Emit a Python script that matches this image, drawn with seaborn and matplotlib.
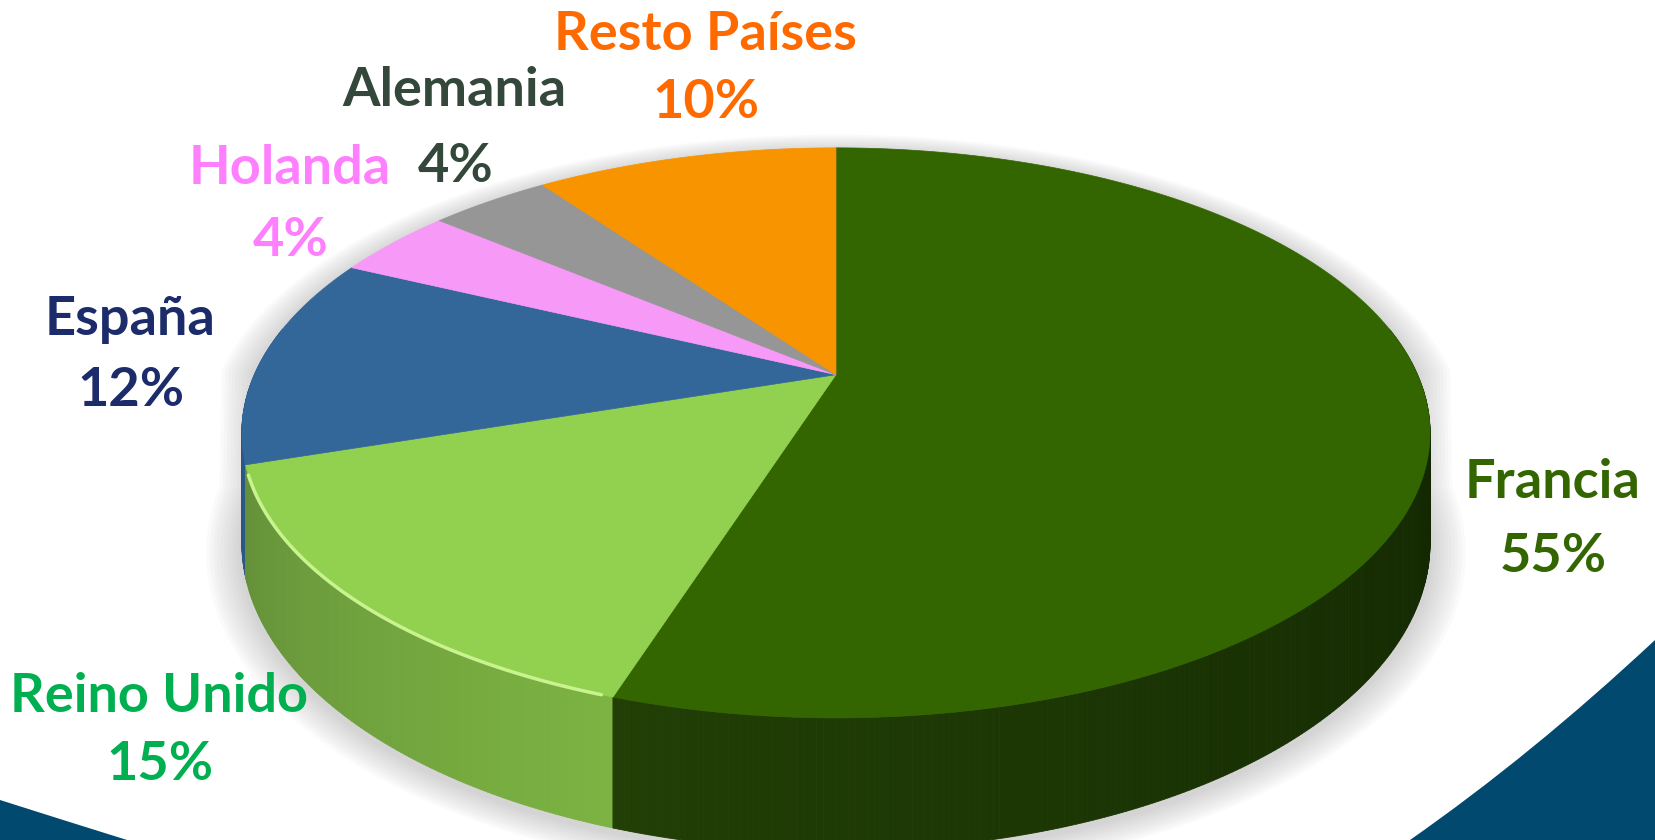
import numpy as np
import matplotlib.pyplot as plt
import matplotlib.patches as mpatches
from matplotlib.path import Path
import seaborn as sns

# datos del grafico
paises = ['Francia', 'Reino Unido', 'España', 'Holanda', 'Alemania', 'Resto Países']
porcentajes = [55, 15, 12, 4, 4, 10]
colores_cara = ['#336600', '#92d050', '#336699', '#f799f7', '#969696', '#f79400']
colores_lado_ini = ['#223f06', '#7cb342', '#2b5987', '#d77dd7', '#7f7f7f', '#d47f00']
colores_lado_fin = ['#0f2200', '#638f38', '#244a72', '#c06ec0', '#6f6f6f', '#b86e00']
colores_texto = ['#336600', '#00b050', '#1c2b69', '#ff80ff', '#33473a', '#ff6a00']

# posicion de las etiquetas (centro nombre, centro porcentaje) en pixeles
pos_etiquetas = {
    'Francia': ((1553, 482), (1553, 556)),
    'Reino Unido': ((159, 697), (160, 765)),
    'España': ((130, 320), (131, 391)),
    'Holanda': ((290, 169), (291, 241)),
    'Alemania': ((454, 91), (456, 166)),
    'Resto Países': ((705, 34), (706, 103)),
}

sns.set_theme(style="white")
plt.rcParams['font.family'] = ['Lato', 'DejaVu Sans']

W, Hpx = 1655, 840
fig = plt.figure(figsize=(W / 100, Hpx / 100), dpi=100)
ax = fig.add_axes([0, 0, 1, 1])
ax.set_xlim(0, W)
ax.set_ylim(Hpx, 0)
ax.axis('off')

# geometria de la tarta 3D con perspectiva
k = W / 1568
cx, cy = 792 * k, 355 * k
s, t, prof = 2700 * k, 1268 * k, 490 * k
d = 4.9


def proj(theta, h=0.0):
    r = np.radians(theta)
    x, z = np.sin(r), -np.cos(r)
    return cx + s * x / (d - z), cy + (t * z + prof * h) / (d - z)


# fondo azul en las esquinas
ax.add_patch(mpatches.Polygon([(0, 800), (60, 819), (127, 840), (0, 840)],
                              closed=True, color='#02496f', lw=0, zorder=0))
verts = [(1655, 640), (1533, 754), (1410, 840), (1655, 840), (1655, 640)]
codes = [Path.MOVETO, Path.CURVE3, Path.CURVE3, Path.LINETO, Path.CLOSEPOLY]
ax.add_patch(mpatches.PathPatch(Path(verts, codes), color='#02496f', lw=0, zorder=0))

# sombra suave bajo la tarta
ang_all = np.linspace(0, 360, 361)
silueta = np.array([proj(a, 1.0 if 90 <= a <= 270 else 0.0) for a in ang_all])
for i in range(10):
    f = 1.0 + 0.006 * (i + 1)
    pts = np.column_stack([cx + (silueta[:, 0] - cx) * f,
                           cy + 60 + (silueta[:, 1] - cy - 60) * f + 4])
    ax.add_patch(mpatches.Polygon(pts, closed=True, color='#808080', alpha=0.035,
                                  lw=0, zorder=1))

# angulos de cada porcion (sentido horario desde arriba)
limites = np.concatenate([[0], np.cumsum(porcentajes) / sum(porcentajes) * 360])

# lados visibles, en tiras ordenadas de atras hacia delante
tiras = []
for i, p in enumerate(paises):
    a0, a1 = max(limites[i], 80), min(limites[i + 1], 280)
    if a1 <= a0:
        continue
    angs = np.arange(a0, a1 + 0.5, 0.5)
    angs[-1] = min(angs[-1], a1)
    pal = sns.blend_palette([colores_lado_ini[i], colores_lado_fin[i]], len(angs))
    if i == 0:
        pal = pal[::-1]
    for j in range(len(angs) - 1):
        u, v = angs[j], angs[j + 1]
        poly = [proj(u, 0), proj(v, 0), proj(v, 1), proj(u, 1)]
        zmid = -np.cos(np.radians((u + v) / 2))
        tiras.append((zmid, poly, pal[j]))
tiras.sort(key=lambda e: e[0])
for zmid, poly, col in tiras:
    ax.add_patch(mpatches.Polygon(poly, closed=True, facecolor=col, edgecolor=col,
                                  lw=0.6, zorder=2))

# caras superiores
for i, p in enumerate(paises):
    angs = np.linspace(limites[i], limites[i + 1], 200)
    pts = [(cx, cy)] + [proj(a, 0) for a in angs]
    ax.add_patch(mpatches.Polygon(pts, closed=True, facecolor=colores_cara[i],
                                  edgecolor=colores_cara[i], lw=0.5, zorder=3))

# brillo en el borde de Reino Unido
angs = np.linspace(limites[1] + 1, limites[2] - 2, 100)
brillo = np.array([proj(a, 0) for a in angs])
ax.plot(brillo[:, 0], brillo[:, 1], color='#c9f38f', lw=2.5, zorder=4,
        solid_capstyle='round')

# etiquetas
for i, p in enumerate(paises):
    (nx, ny), (px, py) = pos_etiquetas[p]
    ax.text(nx, ny, p, color=colores_texto[i], fontsize=39, fontweight='bold',
            ha='center', va='center', zorder=5)
    ax.text(px, py, f'{porcentajes[i]}%', color=colores_texto[i], fontsize=39,
            fontweight='bold', ha='center', va='center', zorder=5)

plt.savefig('out.png', dpi=100)
